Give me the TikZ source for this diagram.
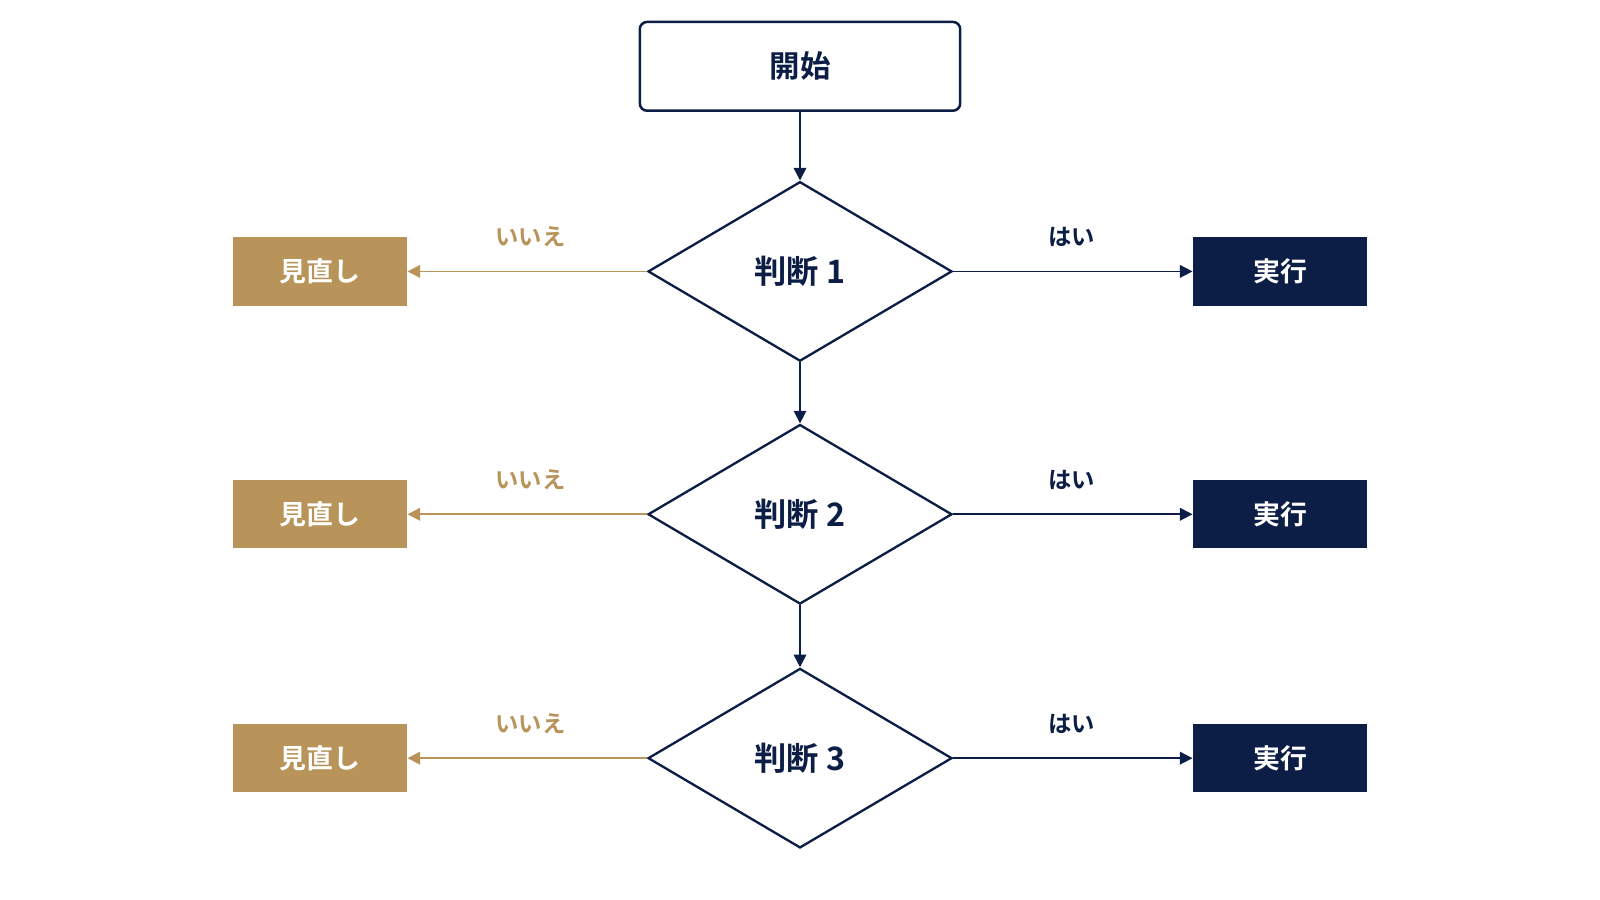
\documentclass[tikz,border=0pt]{standalone}
\usepackage{fontspec}
\setmainfont{Noto Sans CJK JP}[BoldFont={Noto Sans CJK JP Bold}]
\usetikzlibrary{shapes.geometric,arrows.meta}
\definecolor{navy}{HTML}{0C1E46}
\definecolor{gold}{HTML}{B8945A}
\begin{document}
\begin{tikzpicture}[x=0.02cm,y=-0.02cm,
  startbox/.style={draw=navy,line width=1.4pt,rounded corners=4pt,minimum width=6.28cm,minimum height=1.74cm,font=\bfseries\fontsize{17}{20}\selectfont,text=navy,fill=white},
  dec/.style={diamond,draw=navy,line width=1.3pt,minimum width=5.96cm,minimum height=3.52cm,inner sep=0pt,font=\bfseries\fontsize{18}{22}\selectfont,text=navy,fill=white},
  nobox/.style={fill=gold,minimum width=3.42cm,minimum height=1.34cm,font=\bfseries\fontsize{15}{18}\selectfont,text=white},
  yesbox/.style={fill=navy,minimum width=3.42cm,minimum height=1.34cm,font=\bfseries\fontsize{15}{18}\selectfont,text=white},
  narrow/.style={draw=navy,line width=0.9pt,-{Triangle[length=7pt,width=7pt]}},
  garrow/.style={draw=gold,line width=0.9pt,-{Triangle[length=7pt,width=7pt]}},
  nolab/.style={text=gold,font=\bfseries\fontsize{13}{15}\selectfont},
  yeslab/.style={text=navy,font=\bfseries\fontsize{13}{15}\selectfont}]
\useasboundingbox (0,0) rectangle (1568,882);
\node[startbox] (s) at (784,65) {開始};
\foreach \i/\y in {1/266,2/504,3/743}{
  \node[dec] (d\i) at (784,\y) {判断 \i};
  \node[nobox] (n\i) at (313.5,\y) {見直し};
  \node[yesbox] (y\i) at (1254.5,\y) {実行};
  \draw[garrow] (d\i.west) -- (n\i.east);
  \draw[narrow] (d\i.east) -- (y\i.west);
  \node[nolab] (ln\i) at (520,\y-34) {いいえ};
  \node[yeslab] (ly\i) at (1050,\y-34) {はい};
}
\draw[narrow] (s.south) -- (d1.north);
\draw[narrow] (d1.south) -- (d2.north);
\draw[narrow] (d2.south) -- (d3.north);
\end{tikzpicture}
\end{document}
